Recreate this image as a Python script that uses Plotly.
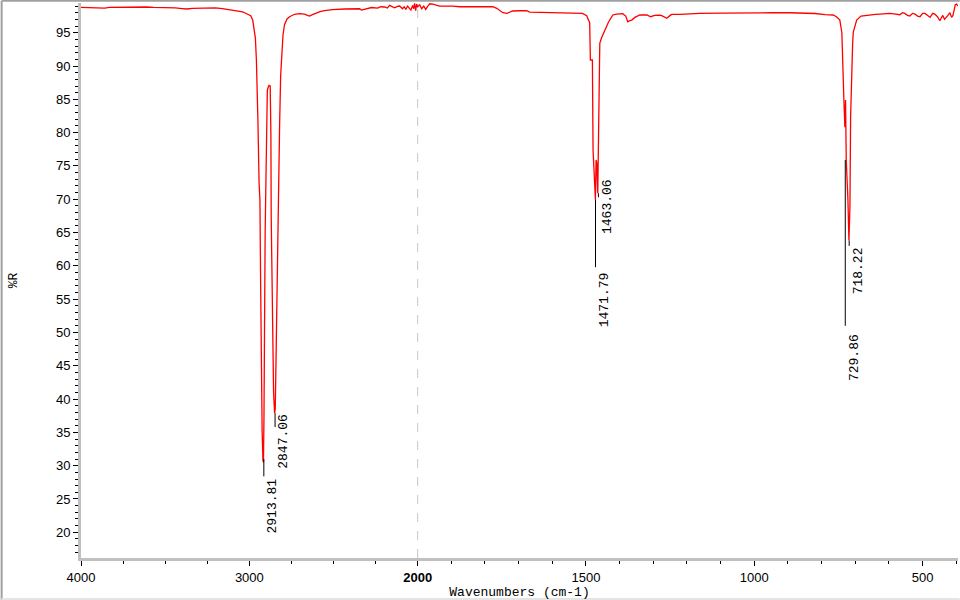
import plotly.graph_objects as go

# IR spectrum, %R vs wavenumber
wavenumber = [
    4000, 3960, 3920, 3890, 3860, 3830, 3780, 3740, 3700, 3650, 3610, 3570, 3530, 3480,
    3440, 3400, 3370, 3340, 3300, 3260, 3230, 3200, 3160, 3130, 3100, 3075, 3058, 3040,
    3028, 3008, 2992, 2980, 2973, 2964, 2958, 2953, 2949, 2942, 2937, 2933, 2929, 2924,
    2919, 2916, 2913, 2911, 2906, 2902, 2896, 2893, 2888, 2883, 2876, 2872, 2870, 2865,
    2862, 2856, 2850, 2846, 2841, 2833, 2829, 2820, 2814, 2810, 2800, 2791, 2776, 2761,
    2731, 2701, 2672, 2655, 2642, 2625, 2607, 2580, 2553, 2506, 2435, 2363, 2345, 2334,
    2320, 2304, 2274, 2238, 2220, 2196, 2180, 2167, 2150, 2137, 2120, 2107, 2090, 2080,
    2070, 2060, 2050, 2040, 2030, 2024, 2018, 2012, 2006, 2000, 1994, 1988, 1982, 1976,
    1970, 1964, 1955, 1945, 1935, 1915, 1896, 1875, 1831, 1800, 1777, 1765, 1755, 1747,
    1735, 1725, 1718, 1697, 1676, 1667, 1640, 1610, 1593, 1560, 1540, 1519, 1510, 1498,
    1495, 1489, 1487, 1481, 1479, 1476, 1472, 1470, 1468, 1465, 1463, 1462, 1459, 1454,
    1444, 1434, 1426, 1420, 1409, 1391, 1382, 1376, 1370, 1364, 1355, 1340, 1319, 1308,
    1296, 1280, 1272, 1260, 1250, 1245, 1221, 1190, 1162, 1100, 1050, 1013, 950, 894,
    850, 820, 790, 766, 756, 746, 740, 738, 734, 731, 729, 727, 722, 719,
    716, 714, 711, 708, 706, 701, 696, 683, 670, 656, 640, 627, 610, 597,
    580, 568, 560, 553, 545, 538, 530, 523, 515, 508, 500, 493, 485, 478,
    470, 464, 456, 449, 445, 440, 435, 431, 425, 419, 414, 410, 406, 403,
    399, 396,
]
percent_r = [
    98.80, 98.78, 98.82, 98.76, 98.70, 98.80, 98.82, 98.78, 98.80, 98.90, 98.86, 98.80, 98.80, 98.75,
    98.72, 98.62, 98.56, 98.64, 98.66, 98.70, 98.76, 98.72, 98.62, 98.52, 98.42, 98.32, 98.26, 98.12,
    98.00, 97.80, 97.55, 96.90, 95.70, 94.20, 90.90, 86.50, 81.90, 72.40, 69.90, 57.80, 42.80, 35.30,
    30.80, 30.50, 37.30, 57.40, 64.90, 71.80, 80.50, 86.40, 86.80, 87.10, 87.00, 80.00, 67.40, 58.00,
    49.90, 41.00, 37.90, 38.50, 46.60, 62.00, 68.80, 81.30, 88.50, 90.90, 94.66, 96.20, 97.06, 97.40,
    97.77, 97.85, 97.80, 97.60, 97.50, 97.70, 97.90, 98.15, 98.33, 98.48, 98.56, 98.66, 98.60, 98.40,
    98.50, 98.58, 98.78, 98.70, 98.90, 98.86, 98.70, 99.10, 98.90, 98.74, 98.95, 99.00, 98.60, 98.90,
    98.50, 99.00, 98.70, 98.40, 99.10, 98.60, 99.40, 98.30, 99.30, 98.90, 99.20, 98.60, 99.00, 98.50,
    99.00, 99.35, 99.30, 99.10, 99.00, 98.98, 99.00, 98.90, 98.88, 98.90, 98.90, 98.66, 98.30, 98.00,
    97.90, 98.10, 98.26, 98.30, 98.30, 98.10, 98.08, 98.05, 98.05, 98.00, 98.02, 98.00, 97.90, 97.55,
    97.16, 96.50, 90.90, 90.90, 77.40, 74.00, 69.90, 75.90, 75.50, 70.90, 80.00, 89.40, 93.40, 94.20,
    95.40, 96.50, 97.20, 97.66, 97.80, 97.85, 97.50, 96.65, 96.80, 96.90, 97.30, 97.66, 97.66, 97.40,
    97.60, 97.65, 97.50, 97.16, 97.60, 97.75, 97.75, 97.85, 97.90, 97.95, 98.00, 97.96, 98.00, 98.00,
    97.95, 97.88, 97.70, 97.66, 97.40, 96.90, 95.00, 89.90, 85.00, 80.80, 84.90, 75.90, 70.00, 63.80,
    68.80, 82.30, 89.90, 93.40, 95.10, 96.20, 96.90, 97.50, 97.60, 97.66, 97.75, 97.80, 97.90, 97.90,
    97.80, 97.70, 98.00, 97.90, 97.60, 97.50, 97.90, 97.80, 97.50, 97.40, 97.90, 97.90, 97.60, 97.30,
    97.90, 97.80, 97.40, 96.80, 97.20, 97.60, 97.00, 97.20, 97.60, 98.00, 97.30, 97.60, 98.40, 99.20,
    99.30, 99.00,
]

# picked peaks
peak_wn = [2913.81, 2847.06, 1471.79, 1463.06, 729.86, 718.22]
peak_text = ["2913.81", "2847.06", "1471.79", "1463.06", "729.86", "718.22"]
label_y = [24.0, 33.6, 54.9, 68.9, 46.2, 59.2]
marker_top = [31.0, 37.9, 69.9, 70.9, 75.9, 63.8]
marker_bottom = [28.4, 35.8, 59.8, 70.3, 51.0, 63.0]

x_major = [4000, 3000, 2000, 1500, 1000, 500]
x_major_text = ["4000", "3000", "<b>2000</b>", "1500", "1000", "500"]
x_minor = [3750, 3500, 3250, 2750, 2500, 2250,
           1900, 1800, 1700, 1600, 1400, 1300, 1200, 1100,
           900, 800, 700, 600, 400]


def to_axis(wn):
    # the wavenumber scale is compressed 2x above 2000 cm-1
    return wn if wn <= 2000 else 2000 + (wn - 2000) / 2


fig = go.Figure()
fig.add_trace(go.Scatter(
    x=[to_axis(w) for w in wavenumber],
    y=percent_r,
    customdata=wavenumber,
    mode='lines',
    line=dict(color='#ff0000', width=1.3),
    hovertemplate='%{customdata} cm-1<br>%{y:.2f} %R<extra></extra>',
    showlegend=False,
))

shapes = [
    # break line at 2000 cm-1
    dict(type='line', xref='x', yref='paper', x0=2000, x1=2000, y0=0, y1=1,
         line=dict(color='#c8c8c8', width=1, dash='dash'), layer='below'),
    # window frame
    dict(type='line', xref='paper', yref='paper', x0=-0.0905, x1=-0.0905, y0=-0.075, y1=1.004,
         line=dict(color='#a0a0a0', width=2)),
    dict(type='line', xref='paper', yref='paper', x0=-0.0905, x1=1.002, y0=1.004, y1=1.004,
         line=dict(color='#a0a0a0', width=2)),
    dict(type='line', xref='paper', yref='paper', x0=-0.0905, x1=1.002, y0=-0.074, y1=-0.074,
         line=dict(color='#e4e4e4', width=2)),
]
annotations = []
for wn, txt, ly, top, bot in zip(peak_wn, peak_text, label_y, marker_top, marker_bottom):
    shapes.append(dict(type='line', xref='x', yref='y', x0=to_axis(wn), x1=to_axis(wn),
                       y0=top, y1=bot, line=dict(color='black', width=1)))
    annotations.append(dict(
        x=to_axis(wn), y=ly, xref='x', yref='y', text=txt, showarrow=False,
        textangle=-90, xanchor='center', yanchor='middle', xshift=9,
        font=dict(family='Liberation Mono', size=13, color='black'),
    ))

fig.update_layout(
    width=960,
    height=600,
    margin=dict(l=81, r=2, t=3, b=42),
    paper_bgcolor='white',
    plot_bgcolor='white',
    font=dict(family='Liberation Sans', size=13, color='black'),
    shapes=shapes,
    annotations=annotations,
    xaxis=dict(
        range=[to_axis(4000), 395],
        automargin=False,
        tickmode='array',
        tickvals=[to_axis(w) for w in x_major],
        ticktext=x_major_text,
        ticks='outside', ticklen=5, tickcolor='black', tickwidth=1,
        minor=dict(tickmode='array', tickvals=[to_axis(w) for w in x_minor],
                   ticks='outside', ticklen=3, tickcolor='black'),
        showline=True, linecolor='#c0c0c0', linewidth=3,
        showgrid=False, zeroline=False,
        title=dict(text='Wavenumbers (cm-1)', standoff=2,
                   font=dict(family='Liberation Mono', size=13)),
    ),
    yaxis=dict(
        range=[16.14, 99.46],
        automargin=False,
        tick0=0, dtick=5,
        ticks='outside', ticklen=5, tickcolor='black', tickwidth=1,
        minor=dict(dtick=1, ticks='outside', ticklen=3, tickcolor='black'),
        showline=True, linecolor='#c0c0c0', linewidth=3,
        showgrid=False, zeroline=False,
        title=dict(text='%R', standoff=36,
                   font=dict(family='Liberation Mono', size=13)),
    ),
)

# the page body has a default 8px margin; drop it so the figure fills the window
fig.write_html(
    "out.html",
    config={'displayModeBar': False},
    post_script="document.body.style.margin='0';",
)
